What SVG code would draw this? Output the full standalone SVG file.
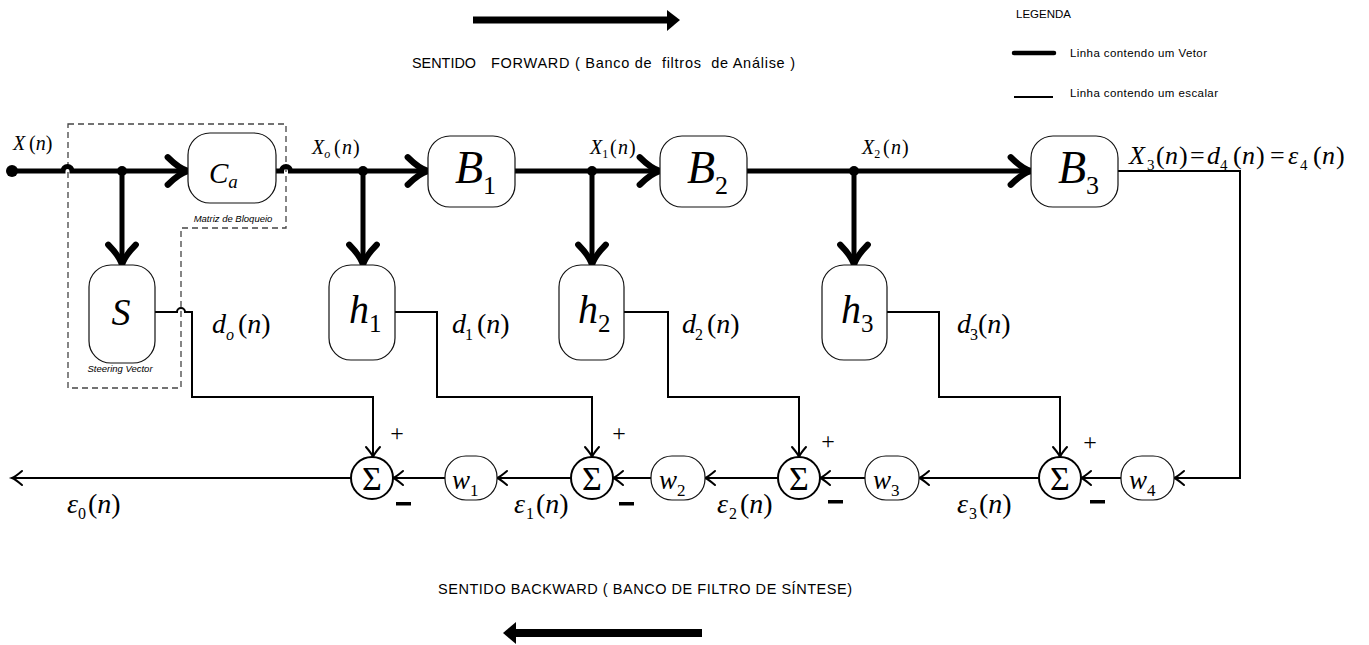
<svg xmlns="http://www.w3.org/2000/svg" width="1369" height="645" viewBox="0 0 1369 645">
  <style>
    .box { fill: #fff; stroke: #111; stroke-width: 1.2; }
    .sum { fill: #fff; stroke: #000; stroke-width: 2; }
    .vec { fill: none; stroke: #000; stroke-width: 5; }
    .sca { fill: none; stroke: #000; stroke-width: 2; }
    .dash { fill: none; stroke: #444; stroke-width: 1.3; stroke-dasharray: 6 4; }
    .m { font-family: "Liberation Serif", "Times New Roman", serif; fill: #000; }
    .i { font-style: italic; }
    .s { font-family: "Liberation Sans", Arial, sans-serif; fill: #000; }
    .sig { font-family: "Liberation Serif", "Times New Roman", serif; font-size: 34px; text-anchor: middle; fill: #000; }
    .plus { font-family: "Liberation Serif", "Times New Roman", serif; font-size: 24px; text-anchor: middle; fill: #000; }
    .minus { fill: #000; }
    .note { font-family: "Liberation Sans", Arial, sans-serif; font-style: italic; font-size: 9.5px; fill: #000; }
    .big { font-size: 28px; }
    .sub { font-size: 16px; }
  </style>
  <defs>
    <marker id="vArrow" markerUnits="userSpaceOnUse" markerWidth="40" markerHeight="40" viewBox="-24 -16 30 32" refX="0" refY="0" orient="auto">
      <path d="M-17,-11 Q-8,-2 -1,0 Q-8,2 -17,11" fill="none" stroke="#000" stroke-width="5" stroke-linecap="round" stroke-linejoin="round"/>
    </marker>
    <marker id="sArrow" markerUnits="userSpaceOnUse" markerWidth="20" markerHeight="20" viewBox="-12 -10 14 20" refX="0" refY="0" orient="auto">
      <path d="M-10,-7 Q-3,-1 0,0 Q-3,1 -10,7" fill="none" stroke="#000" stroke-width="2" stroke-linecap="round"/>
    </marker>
  </defs>

  <!-- direction banners -->
  <g id="forward-banner">
    <line x1="473" y1="20" x2="668" y2="20" stroke="#000" stroke-width="7"/>
    <polygon points="667,10 680,20 667,31" fill="#000"/>
    <text class="s" x="412" y="68" font-size="14.5" textLength="64" lengthAdjust="spacingAndGlyphs">SENTIDO</text>
    <text class="s" x="491" y="68" font-size="14.5" textLength="304" lengthAdjust="spacing" xml:space="preserve">FORWARD ( Banco de  filtros  de Análise )</text>
  </g>
  <g id="backward-banner">
    <text class="s" x="438" y="594" font-size="14.5" textLength="414" lengthAdjust="spacing">SENTIDO BACKWARD ( BANCO DE FILTRO DE SÍNTESE)</text>
    <line x1="514" y1="633" x2="702" y2="633" stroke="#000" stroke-width="8"/>
    <polygon points="516,622 503,633 516,644" fill="#000"/>
  </g>

  <!-- legend -->
  <g id="legend">
    <text class="s" x="1016" y="18" font-size="11.5">LEGENDA</text>
    <line x1="1014" y1="53" x2="1054" y2="53" stroke="#000" stroke-width="4.5" stroke-linecap="round"/>
    <text class="s" x="1070" y="57" font-size="11.5" textLength="137" lengthAdjust="spacing">Linha contendo um Vetor</text>
    <line x1="1014" y1="97" x2="1053" y2="97" stroke="#000" stroke-width="1.8"/>
    <text class="s" x="1070" y="97" font-size="11.5" textLength="148" lengthAdjust="spacing">Linha contendo um escalar</text>
  </g>

  <!-- dashed outline around the steering vector / blocking matrix stage -->
  <path id="gsc-frame" class="dash" d="M68,124 H286 V228 H181 V388 H68 Z"/>

  <!-- connectors -->
  <g id="connectors">
    <!-- vector paths (forward) -->
    <path class="vec" d="M12,171 H63 A4.5,4.5 0 0 1 72,171 H189" marker-end="url(#vArrow)"/>
    <path class="vec" d="M122,171 V266" marker-end="url(#vArrow)"/>
    <path class="vec" d="M276,171 H281.5 A4.5,4.5 0 0 1 290.5,171 H429" marker-end="url(#vArrow)"/>
    <path class="vec" d="M363,171 V266" marker-end="url(#vArrow)"/>
    <path class="vec" d="M515,171 H661" marker-end="url(#vArrow)"/>
    <path class="vec" d="M592,171 V266" marker-end="url(#vArrow)"/>
    <path class="vec" d="M747,171 H1032" marker-end="url(#vArrow)"/>
    <path class="vec" d="M854,171 V266" marker-end="url(#vArrow)"/>

    <!-- scalar paths -->
    <path class="sca" d="M155,312 H177 A4,4 0 0 1 185,312 H192 V397 H373 V457" marker-end="url(#sArrow)"/>
    <path class="sca" d="M395,312 H437 V397 H592 V457" marker-end="url(#sArrow)"/>
    <path class="sca" d="M624,312 H668 V397 H799 V457" marker-end="url(#sArrow)"/>
    <path class="sca" d="M887,312 H939 V397 H1060 V457" marker-end="url(#sArrow)"/>
    <path class="sca" d="M1118,171 H1240 V478 H1174" marker-end="url(#sArrow)"/>
    <path class="sca" d="M1121,478 H1081" marker-end="url(#sArrow)"/>
    <path class="sca" d="M1039,478 H919" marker-end="url(#sArrow)"/>
    <path class="sca" d="M865,478 H820" marker-end="url(#sArrow)"/>
    <path class="sca" d="M778,478 H705" marker-end="url(#sArrow)"/>
    <path class="sca" d="M651,478 H613" marker-end="url(#sArrow)"/>
    <path class="sca" d="M571,478 H497" marker-end="url(#sArrow)"/>
    <path class="sca" d="M445,478 H393" marker-end="url(#sArrow)"/>
    <path class="sca" d="M351,478 H12" marker-end="url(#sArrow)"/>

    <!-- junction dots -->
    <circle cx="12" cy="171" r="6" fill="#000"/>
    <circle cx="122" cy="171" r="5" fill="#000"/>
    <circle cx="363" cy="171" r="5" fill="#000"/>
    <circle cx="592" cy="171" r="5" fill="#000"/>
    <circle cx="854" cy="171" r="5" fill="#000"/>
  </g>

  <!-- signal labels -->
  <g id="signal-labels" class="m">
    <text x="13" y="150" font-size="20"><tspan class="i">X</tspan><tspan x="29">(</tspan><tspan class="i">n</tspan>)</text>
    <text x="312" y="154" font-size="20"><tspan class="i">X</tspan><tspan font-size="12" dy="4" class="i">o</tspan><tspan x="334" dy="-4">(</tspan><tspan class="i" x="342">n</tspan><tspan x="353">)</tspan></text>
    <text x="590" y="154" font-size="20"><tspan class="i">X</tspan><tspan font-size="12" dy="4">1</tspan><tspan x="610" dy="-4">(</tspan><tspan class="i" x="618">n</tspan><tspan x="629">)</tspan></text>
    <text x="862" y="154" font-size="20"><tspan class="i">X</tspan><tspan font-size="12" dy="4">2</tspan><tspan x="883" dy="-4">(</tspan><tspan class="i" x="891">n</tspan><tspan x="902">)</tspan></text>

    <text x="1129" y="164" font-size="26"><tspan class="i">X</tspan><tspan font-size="15" dy="6" x="1147">3</tspan><tspan x="1156" dy="-6">(</tspan><tspan class="i" x="1165">n</tspan><tspan x="1179">)</tspan><tspan x="1190">=</tspan><tspan x="1207" class="i">d</tspan><tspan font-size="15" dy="6" x="1220">4</tspan><tspan x="1233" dy="-6">(</tspan><tspan class="i" x="1242">n</tspan><tspan x="1256">)</tspan><tspan x="1270">=</tspan><tspan x="1288" class="i">ε</tspan><tspan font-size="15" dy="6" x="1300">4</tspan><tspan x="1313" dy="-6">(</tspan><tspan class="i" x="1322">n</tspan><tspan x="1336">)</tspan></text>

    <text class="big" x="212" y="333"><tspan class="i">d</tspan><tspan class="sub i" dy="7">o</tspan><tspan x="238" dy="-7">(</tspan><tspan class="i">n</tspan>)</text>
    <text class="big" x="452" y="333"><tspan class="i">d</tspan><tspan class="sub" dy="7" x="465">1</tspan><tspan x="477" dy="-7">(</tspan><tspan class="i">n</tspan>)</text>
    <text class="big" x="682" y="333"><tspan class="i">d</tspan><tspan class="sub" dy="7" x="695">2</tspan><tspan x="707" dy="-7">(</tspan><tspan class="i">n</tspan>)</text>
    <text class="big" x="957" y="333"><tspan class="i">d</tspan><tspan class="sub" dy="7" x="970">3</tspan><tspan x="978" dy="-7">(</tspan><tspan class="i">n</tspan>)</text>

    <text class="big" x="67" y="513"><tspan class="i">ε</tspan><tspan class="sub" dy="6" x="78">0</tspan><tspan x="88" dy="-6">(</tspan><tspan class="i">n</tspan>)</text>
    <text class="big" x="514" y="513"><tspan class="i">ε</tspan><tspan class="sub" dy="6" x="526">1</tspan><tspan x="536" dy="-6">(</tspan><tspan class="i">n</tspan>)</text>
    <text class="big" x="717" y="513"><tspan class="i">ε</tspan><tspan class="sub" dy="6" x="729">2</tspan><tspan x="740" dy="-6">(</tspan><tspan class="i">n</tspan>)</text>
    <text class="big" x="957" y="513"><tspan class="i">ε</tspan><tspan class="sub" dy="6" x="969">3</tspan><tspan x="979" dy="-6">(</tspan><tspan class="i">n</tspan>)</text>
  </g>

  <!-- forward stage blocks -->
  <g id="node-S">
    <rect class="box" x="89" y="265" width="66" height="98" rx="22"/>
    <text class="m i" x="121" y="325" font-size="38" text-anchor="middle">S</text>
    <text class="note" x="120" y="372" text-anchor="middle">Steering Vector</text>
  </g>
  <g id="node-Ca">
    <rect class="box" x="188" y="133" width="88" height="70" rx="22"/>
    <text class="m" x="209" y="183" font-size="29"><tspan class="i">C</tspan><tspan class="i" font-size="19" dy="5">a</tspan></text>
    <text class="note" x="233" y="222" text-anchor="middle">Matriz de Bloqueio</text>
  </g>
  <g id="node-B1">
    <rect class="box" x="428" y="136" width="87" height="71" rx="22"/>
    <text class="m" x="455" y="183" font-size="46"><tspan class="i">B</tspan><tspan font-size="26" dy="11">1</tspan></text>
  </g>
  <g id="node-B2">
    <rect class="box" x="660" y="136" width="87" height="71" rx="22"/>
    <text class="m" x="687" y="183" font-size="46"><tspan class="i">B</tspan><tspan font-size="26" dy="11">2</tspan></text>
  </g>
  <g id="node-B3">
    <rect class="box" x="1031" y="136" width="87" height="71" rx="22"/>
    <text class="m" x="1058" y="183" font-size="46"><tspan class="i">B</tspan><tspan font-size="26" dy="11">3</tspan></text>
  </g>
  <g id="node-h1">
    <rect class="box" x="329" y="265" width="66" height="95" rx="22"/>
    <text class="m" x="349" y="323" font-size="40"><tspan class="i">h</tspan><tspan font-size="25" dy="9">1</tspan></text>
  </g>
  <g id="node-h2">
    <rect class="box" x="559" y="265" width="65" height="95" rx="22"/>
    <text class="m" x="578" y="323" font-size="40"><tspan class="i">h</tspan><tspan font-size="25" dy="9">2</tspan></text>
  </g>
  <g id="node-h3">
    <rect class="box" x="822" y="265" width="65" height="95" rx="22"/>
    <text class="m" x="841" y="323" font-size="40"><tspan class="i">h</tspan><tspan font-size="25" dy="9">3</tspan></text>
  </g>

  <!-- backward stage: weights and summing junctions -->
  <g id="node-w1">
    <rect class="box" x="445" y="456" width="52" height="44" rx="21"/>
    <text class="m" x="452" y="489" font-size="27"><tspan class="i">w</tspan><tspan font-size="17" dy="7">1</tspan></text>
  </g>
  <g id="node-w2">
    <rect class="box" x="651" y="456" width="54" height="44" rx="21"/>
    <text class="m" x="659" y="489" font-size="27"><tspan class="i">w</tspan><tspan font-size="17" dy="7">2</tspan></text>
  </g>
  <g id="node-w3">
    <rect class="box" x="865" y="456" width="54" height="44" rx="21"/>
    <text class="m" x="873" y="489" font-size="27"><tspan class="i">w</tspan><tspan font-size="17" dy="7">3</tspan></text>
  </g>
  <g id="node-w4">
    <rect class="box" x="1121" y="456" width="53" height="44" rx="21"/>
    <text class="m" x="1129" y="489" font-size="27"><tspan class="i">w</tspan><tspan font-size="17" dy="7">4</tspan></text>
  </g>

  <g id="node-sum0">
    <circle class="sum" cx="372" cy="478" r="21"/>
    <text class="sig" x="372" y="490">Σ</text>
    <text class="plus" x="397" y="441">+</text>
    <rect class="minus" x="396" y="502" width="15" height="3.5"/>
  </g>
  <g id="node-sum1">
    <circle class="sum" cx="592" cy="478" r="21"/>
    <text class="sig" x="592" y="490">Σ</text>
    <text class="plus" x="619" y="441">+</text>
    <rect class="minus" x="619" y="502" width="15" height="3.5"/>
  </g>
  <g id="node-sum2">
    <circle class="sum" cx="799" cy="478" r="21"/>
    <text class="sig" x="799" y="490">Σ</text>
    <text class="plus" x="828" y="449">+</text>
    <rect class="minus" x="828" y="500" width="15" height="3.5"/>
  </g>
  <g id="node-sum3">
    <circle class="sum" cx="1060" cy="478" r="21"/>
    <text class="sig" x="1060" y="490">Σ</text>
    <text class="plus" x="1090" y="450">+</text>
    <rect class="minus" x="1090" y="500" width="15" height="3.5"/>
  </g>
</svg>
